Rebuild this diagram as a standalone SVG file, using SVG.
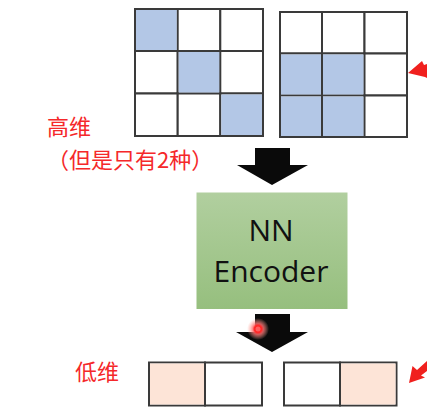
<svg xmlns="http://www.w3.org/2000/svg" width="427" height="418" viewBox="0 0 427 418">
<defs>
<linearGradient id="g" x1="0" y1="0" x2="0" y2="1">
<stop offset="0" stop-color="#b1cf9f"/>
<stop offset="1" stop-color="#96bf7e"/>
</linearGradient>
<radialGradient id="laser">
<stop offset="0" stop-color="#ff1f1f"/>
<stop offset="0.35" stop-color="#ff2a2a"/>
<stop offset="0.5" stop-color="#ff7070" stop-opacity="0.8"/>
<stop offset="1" stop-color="#ffb0a0" stop-opacity="0"/>
</radialGradient>
<style>
.cell{fill:#ffffff;stroke:#3a3a3a;stroke-width:2}
.on{fill:#b3c7e6}
.pk{fill:#fde4d7}
.lbl{font-family:"Noto Sans CJK SC","Noto Sans",sans-serif;font-size:22px;fill:#f5282a}
.enc{font-family:"Open Sans","Noto Sans",sans-serif;font-size:30px;fill:#111}
.arr{fill:#0a0a0a}
.red{fill:#f0201e}
</style>
</defs>

<g id="grid-diagonal">
<rect class="cell" x="135" y="9" width="42.7" height="42"/>
<rect class="cell" x="177.7" y="9" width="42.6" height="42"/>
<rect class="cell" x="220.3" y="9" width="42.7" height="42"/>
<rect class="cell" x="135" y="51" width="42.7" height="42.5"/>
<rect class="cell" x="177.7" y="51" width="42.6" height="42.5"/>
<rect class="cell" x="220.3" y="51" width="42.7" height="42.5"/>
<rect class="cell" x="135" y="93.5" width="42.7" height="42.5"/>
<rect class="cell" x="177.7" y="93.5" width="42.6" height="42.5"/>
<rect class="cell" x="220.3" y="93.5" width="42.7" height="42.5"/>
<rect class="on" x="136" y="10" width="40.7" height="40"/>
<rect class="on" x="178.7" y="52" width="40.6" height="40.5"/>
<rect class="on" x="221.3" y="94.5" width="40.7" height="40.5"/>
</g>

<g id="grid-block">
<rect class="cell" x="280" y="12" width="42" height="41.5"/>
<rect class="cell" x="322" y="12" width="42.5" height="41.5"/>
<rect class="cell" x="364.5" y="12" width="42.5" height="41.5"/>
<rect class="cell" x="280" y="53.5" width="42" height="42"/>
<rect class="cell" x="322" y="53.5" width="42.5" height="42"/>
<rect class="cell" x="364.5" y="53.5" width="42.5" height="42"/>
<rect class="cell" x="280" y="95.5" width="42" height="41.5"/>
<rect class="cell" x="322" y="95.5" width="42.5" height="41.5"/>
<rect class="cell" x="364.5" y="95.5" width="42.5" height="41.5"/>
<rect class="on" x="281" y="54.5" width="40" height="40"/>
<rect class="on" x="323" y="54.5" width="40.5" height="40"/>
<rect class="on" x="281" y="96.5" width="40" height="39.5"/>
<rect class="on" x="323" y="96.5" width="40.5" height="39.5"/>
</g>

<g id="label-high">
<text class="lbl" x="47" y="135">高维</text>
<text class="lbl" x="47" y="168">（但是只有2种）</text>
</g>

<g id="encoder">
<rect x="196.5" y="192.5" width="151" height="116.5" fill="url(#g)"/>
<text class="enc" x="271" y="241" text-anchor="middle">NN</text>
<text class="enc" x="271" y="282" text-anchor="middle">Encoder</text>
</g>

<g id="code-a">
<rect class="cell" x="149" y="362.5" width="56" height="43"/>
<rect class="cell" x="205" y="362.5" width="57" height="43"/>
<rect class="pk" x="150" y="363.5" width="54" height="41"/>
</g>

<g id="code-b">
<rect class="cell" x="284" y="362.5" width="56" height="43"/>
<rect class="cell" x="340" y="362.5" width="56.5" height="43"/>
<rect class="pk" x="341" y="363.5" width="54.5" height="41"/>
</g>

<g id="label-low">
<text class="lbl" x="75" y="380">低维</text>
</g>

<g id="connectors">
<polygon class="arr" points="255,148 290,148 290,165 308,165 272,185 237,165 255,165"/>
<polygon class="arr" points="255,314 290,314 290,332 308,332 272,352 236,332 255,332"/>
<polygon class="red" points="408,73 422,61 424,65 427,64 427,78 425,77"/>
<polygon class="red" points="409,383 412.5,366 417,370 427,361 427,371 421,375.5 425,377.5"/>
</g>

<g id="laser-dot">
<circle cx="258" cy="329" r="11" fill="url(#laser)"/>
<circle cx="258" cy="329" r="2.5" fill="#ff6060"/>
</g>
</svg>
